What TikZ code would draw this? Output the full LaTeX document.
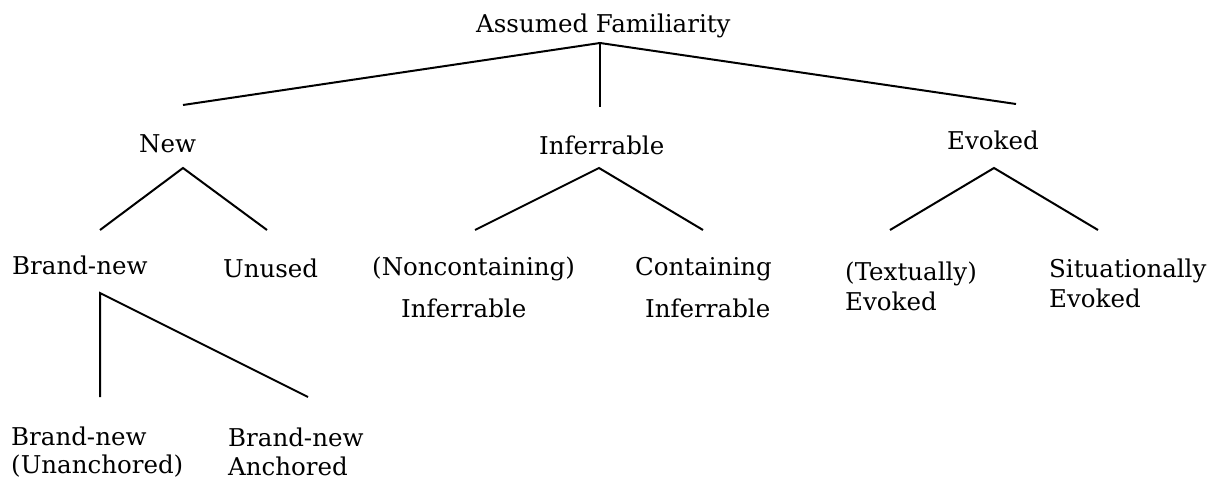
\documentclass[tikz,border=0pt]{standalone}
\usepackage{fontspec}
\setmainfont{DejaVu Serif}
\usepackage{tikz}

\begin{document}
\begin{tikzpicture}[
  x=1pt, y=-1pt,
  every node/.style={
    font=\fontsize{24.5}{30}\selectfont,
    inner sep=0pt,
    anchor=base west,
    align=left,
  },
  branch/.style={
    draw=black,
    line width=2pt,
  }
]
\useasboundingbox (0,0) rectangle (1213,481);
\node (assumed) at (476,33) {Assumed Familiarity};
\node (new) at (139,153) {New};
\node (inferrable) at (539,155) {Inferrable};
\node (evoked) at (947,150) {Evoked};
\node (brandnew) at (12,275) {Brand-new};
\node (unused) at (223,277) {Unused};
% base of a two-line node is the last line
\node (noncontaining) at (372,317) {(Noncontaining)\\[12pt]\hspace*{29pt}Inferrable};
\node (containing) at (635,317) {Containing\\[12pt]\hspace*{10pt}Inferrable};
\node (textually) at (845,310) {(Textually)\\Evoked};
\node (situationally) at (1049,307) {Situationally\\Evoked};
\node (unanchored) at (11,473) {Brand-new\\[-2pt](Unanchored)};
\node (anchored) at (228,475) {Brand-new\\[-1pt]Anchored};
\coordinate (top) at (600,43);
\coordinate (top-l) at (183,105);
\coordinate (top-m) at (600,107);
\coordinate (top-r) at (1016,104);
\draw[branch] (top-l) -- (top) -- (top-r);
\draw[branch] (top) -- (top-m);
\foreach \n/\a/\l/\r in {new/183/100/267, inferrable/599/475/703, evoked/994/890/1098}
{
  \coordinate (\n-apex) at (\a,168);
  \coordinate (\n-l) at (\l,230);
  \coordinate (\n-r) at (\r,230);
  \draw[branch] (\n-l) -- (\n-apex) -- (\n-r);
}
\coordinate (brandnew-apex) at (100,293);
\coordinate (brandnew-l) at (100,397);
\coordinate (brandnew-r) at (308,397);
\draw[branch] (brandnew-l) -- (brandnew-apex) -- (brandnew-r);
\end{tikzpicture}
\end{document}
